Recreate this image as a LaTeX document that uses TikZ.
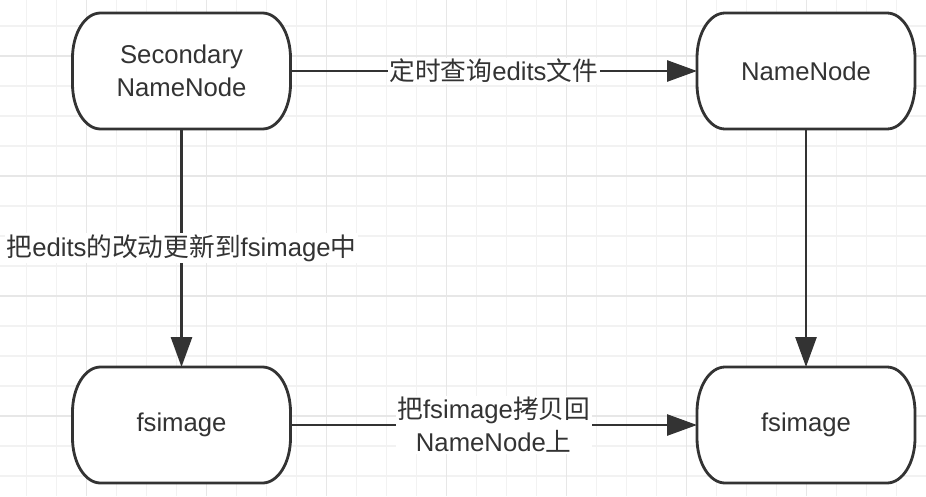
\documentclass[tikz,border=0pt]{standalone}
\usepackage{fontspec}
\setmainfont{Liberation Sans}
\newfontfamily\cjk{Noto Sans CJK SC}
\usetikzlibrary{arrows.meta}
\definecolor{ink}{RGB}{51,51,51}
\definecolor{gridminor}{RGB}{242,242,242}
\definecolor{gridmajor}{RGB}{231,231,231}
\newcommand{\zh}[1]{{\cjk #1}}
\pgfdeclarelayer{gridlayer}
\pgfdeclarelayer{boxlayer}
\pgfsetlayers{gridlayer,boxlayer,main}
\tikzset{
  termbox/.style={minimum width=218pt,minimum height=116pt,inner sep=0pt,outer sep=0pt,align=center,text=ink,font=\fontsize{25.7}{33}\selectfont},
  boxline/.style={draw=ink,fill=white,line width=2.8pt},
  flow/.style={draw=ink,line width=2.8pt,-{Triangle[length=30pt,width=21pt]}},
  lbl/.style={fill=white,inner sep=1.5pt,align=center,text=ink,font=\fontsize{25.7}{33}\selectfont}
}

\begin{document}
\begin{tikzpicture}[x=1pt,y=-1pt]
\useasboundingbox (0,0) rectangle (926,496);
\begin{pgfonlayer}{gridlayer}
  \fill[white] (0,0) rectangle (926,496);
  \foreach \x in {26.7,56.7,...,926} \draw[gridminor,line width=1.5pt] (\x,0)--(\x,496);
  \foreach \y in {26,56,...,496} \draw[gridminor,line width=1.5pt] (0,\y)--(926,\y);
  \foreach \x in {86.7,206.7,...,926} \draw[gridmajor,line width=1.5pt] (\x,0)--(\x,496);
  \foreach \y in {56,176,...,496} \draw[gridmajor,line width=1.5pt] (0,\y)--(926,\y);
\end{pgfonlayer}

\node[termbox] (snn) at (181.5,71) {Secondary\\NameNode};
\node[termbox] (nn) at (806,71) {NameNode};
\node[termbox] (fsl) at (181.5,425) {fsimage};
\node[termbox] (fsr) at (806,425) {fsimage};

\begin{pgfonlayer}{boxlayer}
  \foreach \n in {snn,nn,fsl,fsr}
    \draw[boxline] ([xshift=28pt]\n.north west) -- ([xshift=-28pt]\n.north east)
      arc[start angle=90,end angle=0,x radius=28pt,y radius=45pt] -- ([yshift=45pt]\n.south east)
      arc[start angle=0,end angle=-90,x radius=28pt,y radius=45pt] -- ([xshift=28pt]\n.south west)
      arc[start angle=270,end angle=180,x radius=28pt,y radius=45pt] -- ([yshift=-45pt]\n.north west)
      arc[start angle=180,end angle=90,x radius=28pt,y radius=45pt] -- cycle;
\end{pgfonlayer}

\draw[flow] (snn) -- node[lbl]{\zh{定时查询}edits\zh{文件}} (nn);
\draw[flow] (snn) -- node[lbl]{\zh{把}edits\zh{的改动更新到}fsimage\zh{中}} (fsl);
\draw[flow] (nn) -- (fsr);
\draw[flow] (fsl) -- node[lbl]{\zh{把}fsimage\zh{拷贝回}\\NameNode\zh{上}} (fsr);
\end{tikzpicture}
\end{document}
